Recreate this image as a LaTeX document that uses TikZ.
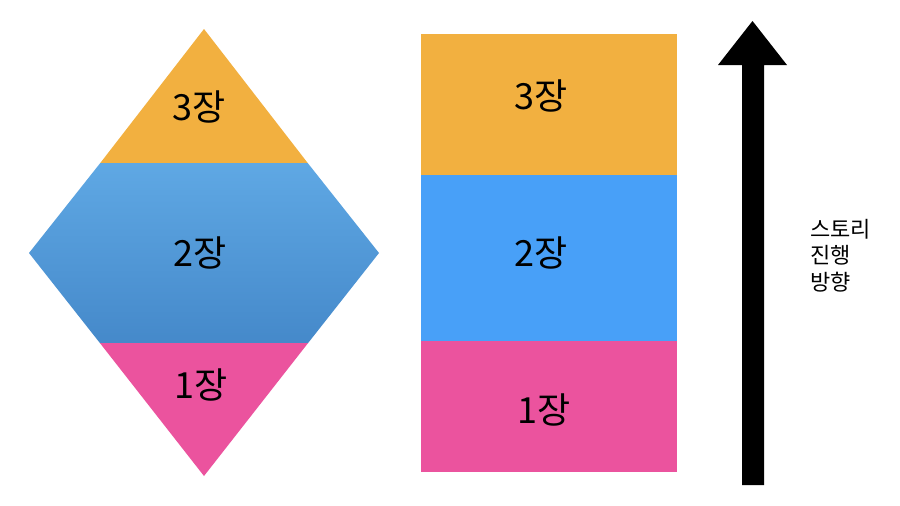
\documentclass[tikz,border=0pt]{standalone}
\usepackage{fontspec}
\setmainfont{Noto Sans CJK KR}
\definecolor{cOrange}{HTML}{F2B040}
\definecolor{cPink}{HTML}{EB539E}
\definecolor{cBlueR}{HTML}{48A0F8}
\definecolor{cBlueT}{HTML}{5FA8E4}
\definecolor{cBlueB}{HTML}{4589CA}
\tikzset{
  lbl/.style={font=\fontsize{36}{40}\selectfont, inner sep=0pt, text=black},
  side/.style={font=\fontsize{22}{26.5}\selectfont, align=left, inner sep=0pt, anchor=north west},
}
\begin{document}
\begin{tikzpicture}[x=1pt,y=-1pt]
\useasboundingbox (0,0) rectangle (900,506);
\fill[white] (0,0) rectangle (900,506);
% diamond
\coordinate (T) at (204,29);
\coordinate (L) at (29,253);
\coordinate (R) at (379,253);
\coordinate (B) at (204,476);
\coordinate (oL) at (100.3,163);
\coordinate (oR) at (307.7,163);
\coordinate (pL) at (99.9,343);
\coordinate (pR) at (308.1,343);
\fill[cOrange] (T) -- (oR) -- (oL) -- cycle;
\shade[top color=cBlueT, bottom color=cBlueB] (oL) -- (oR) -- (R) -- (pR) -- (pL) -- (L) -- cycle;
\fill[cPink] (pL) -- (pR) -- (B) -- cycle;
\node[lbl] (d3) at (199,107) {3장};
\node[lbl] (d2) at (200,253) {2장};
\node[lbl] (d1) at (201,385) {1장};
% rectangles
\fill[cOrange] (421,34) rectangle (677,175);
\fill[cBlueR] (421,175) rectangle (677,341);
\fill[cPink] (421,341) rectangle (677,472);
\node[lbl] (r3) at (541,96) {3장};
\node[lbl] (r2) at (541,253) {2장};
\node[lbl] (r1) at (544,410) {1장};
% arrow
\fill[black] (742,485) -- (742,65) -- (718,65) -- (752.5,21) -- (787,65) -- (764,65) -- (764,485) -- cycle;
\node[side] (txt) at (810,219) {스토리\\진행\\방향};
\end{tikzpicture}
\end{document}
